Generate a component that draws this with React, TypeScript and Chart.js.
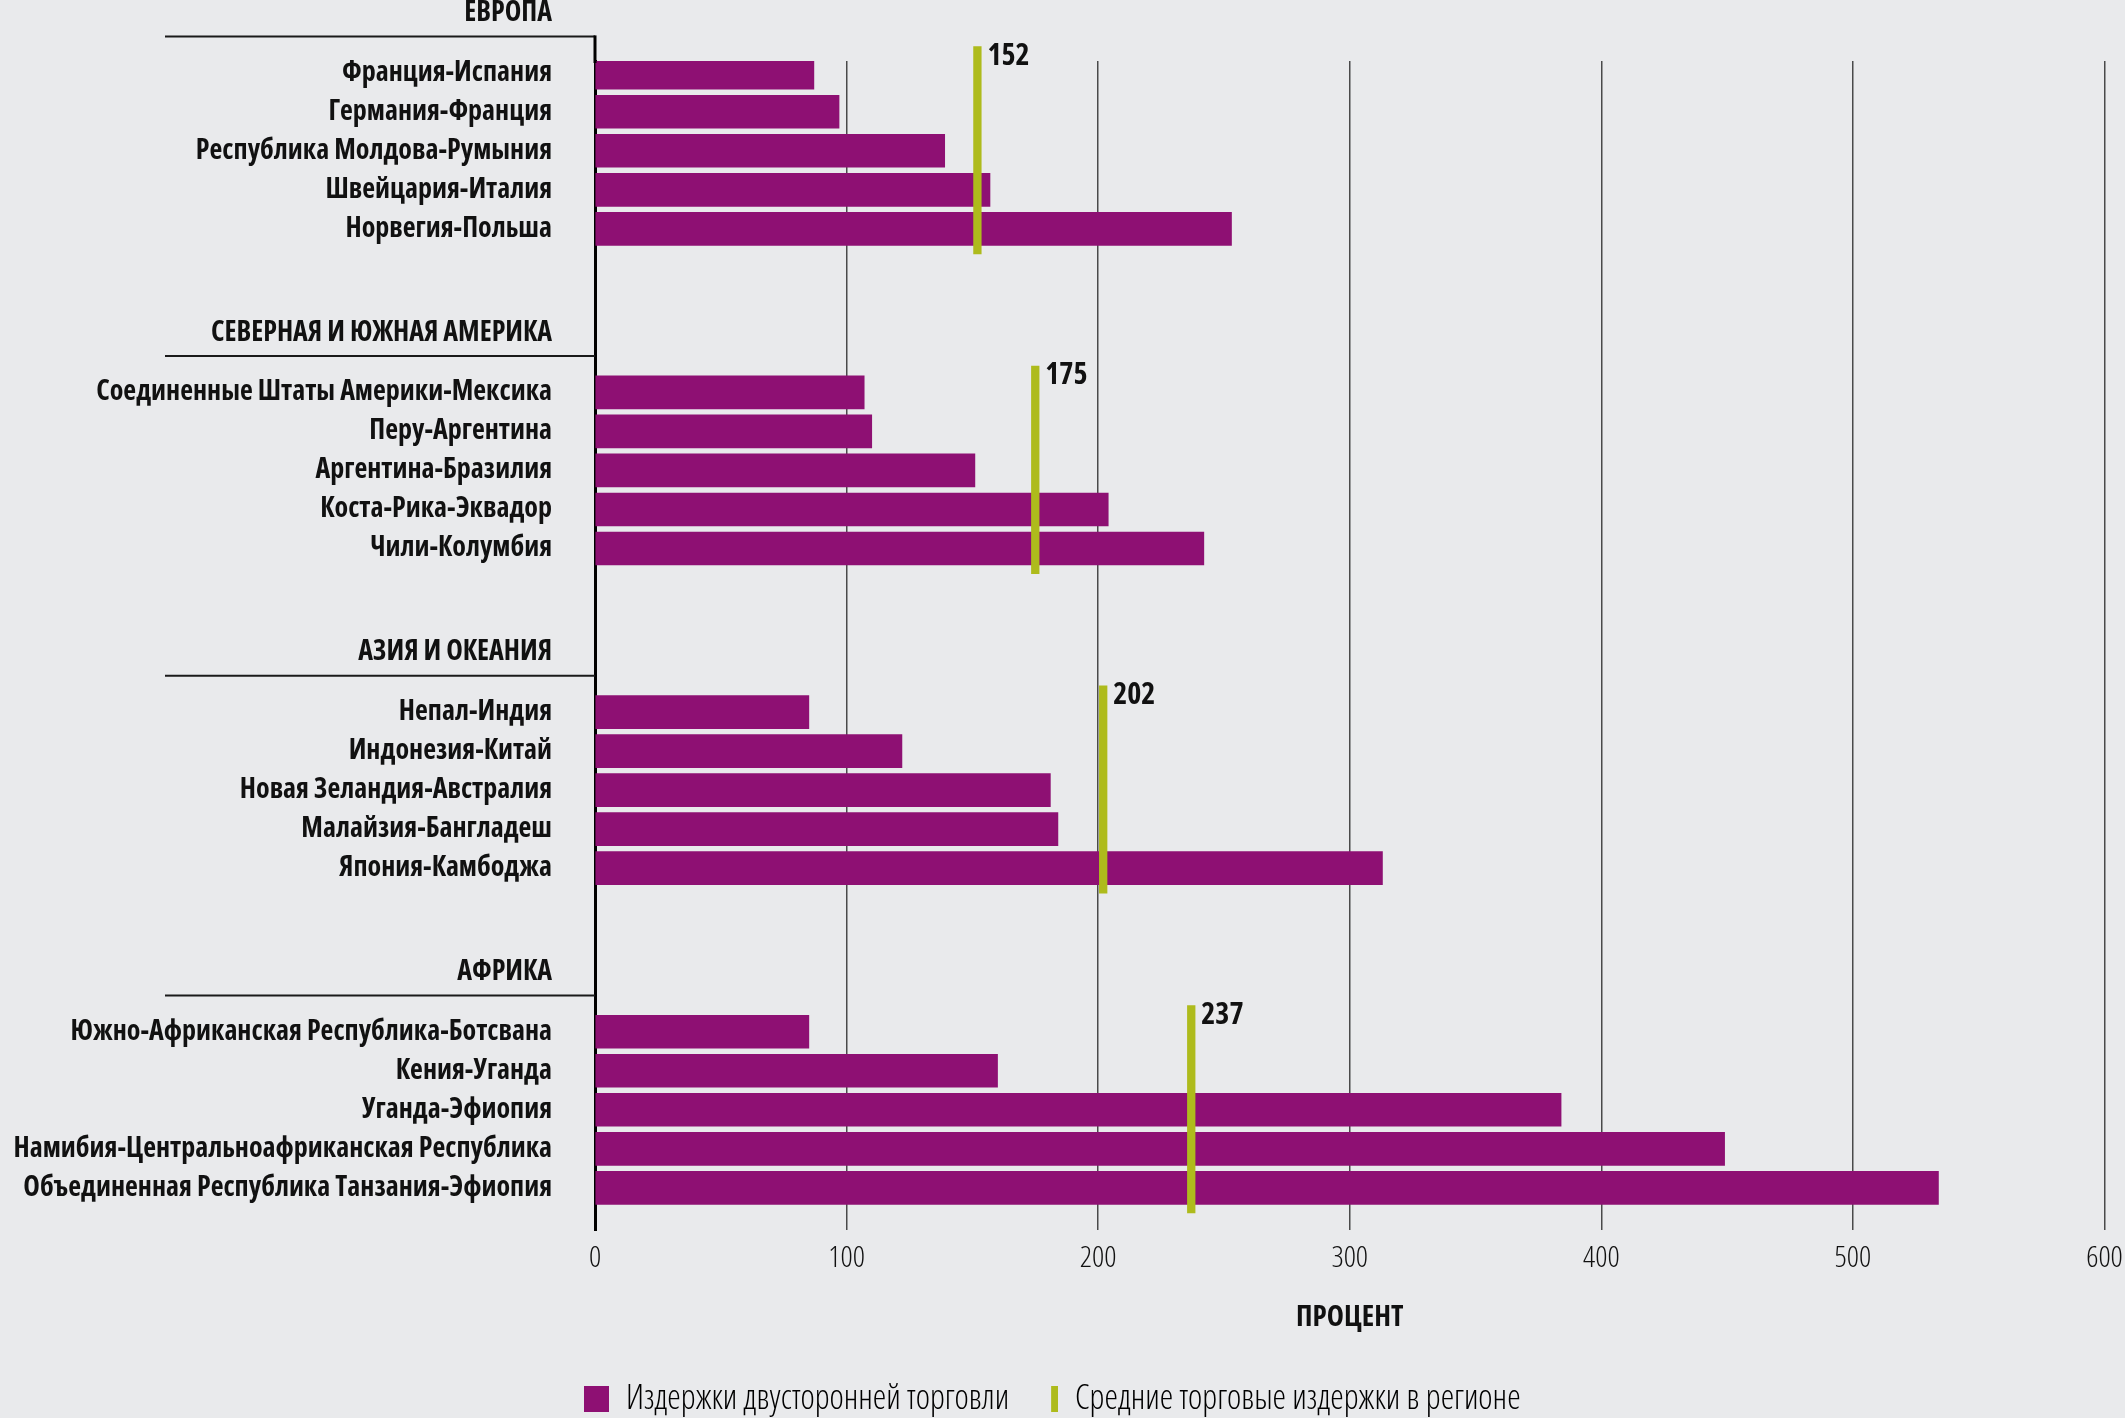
import React, { useEffect, useRef } from "react";
import { Chart, registerables } from "chart.js";

Chart.register(...registerables);

const W = 2125;
const H = 1418;
const BG = "#e9eaec";
const PURPLE = "#8e1073";
const GREEN = "#aebb1c";
const INK = "#111111";
const FAMILY = "'Open Sans', 'DejaVu Sans Condensed', sans-serif";
const BOLD = "condensed bold";
const LIGHT = "condensed 300";
const GROUP_STEP = 8.19;

const regionNames = ["ЕВРОПА", "СЕВЕРНАЯ И ЮЖНАЯ АМЕРИКА", "АЗИЯ И ОКЕАНИЯ", "АФРИКА"];

const europeLabels = ["Франция-Испания", "Германия-Франция", "Республика Молдова-Румыния", "Швейцария-Италия", "Норвегия-Польша"];
const europeValues = [87, 97, 139, 157, 253];

const americasLabels = ["Соединенные Штаты Америки-Мексика", "Перу-Аргентина", "Аргентина-Бразилия", "Коста-Рика-Эквадор", "Чили-Колумбия"];
const americasValues = [107, 110, 151, 204, 242];

const asiaLabels = ["Непал-Индия", "Индонезия-Китай", "Новая Зеландия-Австралия", "Малайзия-Бангладеш", "Япония-Камбоджа"];
const asiaValues = [85, 122, 181, 184, 313];

const africaLabels = ["Южно-Африканская Республика-Ботсвана", "Кения-Уганда", "Уганда-Эфиопия", "Намибия-Центральноафриканская Республика", "Объединенная Республика Танзания-Эфиопия"];
const africaValues = [85, 160, 384, 449, 534];

const regionAverages = [152, 175, 202, 237];

const xTickValues = [0, 100, 200, 300, 400, 500, 600];
const axisTitle = "ПРОЦЕНТ";
const legendLabels = ["Издержки двусторонней торговли", "Средние торговые издержки в регионе"];

const regionLabelLists = [europeLabels, americasLabels, asiaLabels, africaLabels];
const regionValueLists = [europeValues, americasValues, asiaValues, africaValues];

export default function App() {
  const ref = useRef<HTMLCanvasElement>(null);

  useEffect(() => {
    document.body.style.margin = "0";
    document.body.style.background = BG;
    const canvas = ref.current;
    if (!canvas) return;

    const positions: number[] = [];
    const names: string[] = [];
    const barData: { x: number; y: number }[] = [];
    regionLabelLists.forEach((labels, g) => {
      labels.forEach((name, i) => {
        const y = g * GROUP_STEP + i;
        positions.push(y);
        names.push(name);
        barData.push({ x: regionValueLists[g][i], y });
      });
    });
    const avgData: { x: number; y: number }[] = [];
    regionAverages.forEach((avg, g) => {
      const s = g * GROUP_STEP;
      avgData.push({ x: avg, y: s - 0.68 }, { x: avg, y: s + 4.65 }, { x: NaN, y: s + 6 });
    });

    const purpleIcon = document.createElement("canvas");
    purpleIcon.width = 25;
    purpleIcon.height = 26;
    const pc = purpleIcon.getContext("2d")!;
    pc.fillStyle = PURPLE;
    pc.fillRect(0, 0, 25, 26);
    const greenIcon = document.createElement("canvas");
    greenIcon.width = 25;
    greenIcon.height = 26;
    const gc = greenIcon.getContext("2d")!;
    gc.fillStyle = GREEN;
    gc.fillRect(18, 0, 7, 26);

    const headerPlugin = {
      id: "regionHeaders",
      afterDraw(chart: any) {
        const { ctx, chartArea, scales } = chart;
        const ys = scales.y;
        const xs = scales.x;
        ctx.save();
        regionNames.forEach((name, g) => {
          const s = g * GROUP_STEP;
          const ty = ys.getPixelForValue(s - 1.53);
          const ly = ys.getPixelForValue(s - 0.93);
          ctx.font = `${BOLD} 28px ${FAMILY}`;
          ctx.fillStyle = INK;
          ctx.textAlign = "right";
          ctx.textBaseline = "middle";
          ctx.fillText(name, chartArea.left - 43, ty);
          ctx.strokeStyle = "#1a1a1a";
          ctx.lineWidth = 2;
          ctx.beginPath();
          ctx.moveTo(chartArea.left - 430, ly);
          ctx.lineTo(chartArea.left, ly);
          ctx.stroke();
          const ax = xs.getPixelForValue(regionAverages[g]);
          const atop = ys.getPixelForValue(s - 0.68);
          ctx.font = `${BOLD} 30px ${FAMILY}`;
          ctx.textAlign = "left";
          ctx.fillText(String(regionAverages[g]), ax + 10, atop + 10);
        });
        ctx.strokeStyle = "#000";
        ctx.lineWidth = 3;
        ctx.beginPath();
        ctx.moveTo(chartArea.left, ys.getPixelForValue(-0.93) - 1);
        ctx.lineTo(chartArea.left, chartArea.top + 2);
        ctx.stroke();
        ctx.restore();
      },
    };

    const chart = new Chart(canvas, {
      type: "bar",
      data: {
        datasets: [
          {
            type: "line",
            label: legendLabels[1],
            data: avgData,
            borderColor: GREEN,
            backgroundColor: GREEN,
            borderWidth: 8.3,
            pointRadius: 0,
            spanGaps: false,
            clip: false,
            order: 0,
          } as any,
          {
            type: "bar",
            label: legendLabels[0],
            data: barData,
            backgroundColor: PURPLE,
            borderWidth: 0,
            barThickness: 33,
            order: 1,
          } as any,
        ],
      },
      options: {
        indexAxis: "y",
        animation: false,
        responsive: false,
        events: [],
        layout: { padding: { top: 61, left: 0, right: 20.5, bottom: -8 } },
        scales: {
          y: {
            type: "linear",
            reverse: true,
            offset: false,
            min: -0.3,
            max: 29.65,
            afterBuildTicks: (s: any) => {
              s.ticks = positions.map((v) => ({ value: v }));
            },
            afterFit: (s: any) => {
              s.width = 595;
              s.paddingTop = 0;
              s.paddingBottom = 0;
            },
            ticks: {
              autoSkip: false,
              padding: 43,
              color: INK,
              font: { family: FAMILY, weight: BOLD, size: 28 },
              callback: (_v: any, i: number) => names[i] ?? "",
            },
            grid: { display: false, drawTicks: false, offset: false },
            border: { display: true, color: "#000", width: 3 },
          },
          x: {
            type: "linear",
            position: "bottom",
            min: 0,
            max: 600,
            afterBuildTicks: (s: any) => {
              s.ticks = xTickValues.map((v) => ({ value: v }));
            },
            afterFit: (s: any) => {
              s.height = 128;
              s.paddingLeft = 0;
              s.paddingRight = 0;
            },
            ticks: {
              padding: 10,
              color: INK,
              font: { family: FAMILY, weight: LIGHT, size: 30 },
            },
            grid: {
              color: (c: any) => (c.tick && c.tick.value === 0 ? "rgba(0,0,0,0)" : "#4a4a4a"),
              lineWidth: 1.5,
              drawTicks: false,
            },
            border: { display: false },
            title: {
              display: true,
              text: axisTitle,
              color: INK,
              font: { family: FAMILY, weight: BOLD, size: 29 },
              padding: { top: 0, bottom: 23 },
            },
          },
        },
        plugins: {
          tooltip: { enabled: false },
          legend: {
            position: "bottom",
            labels: {
              usePointStyle: true,
              boxWidth: 25,
              boxHeight: 26,
              padding: 24,
              color: INK,
              font: { family: FAMILY, weight: LIGHT, size: 34 },
              generateLabels: () => [
                { text: legendLabels[0], pointStyle: purpleIcon, fillStyle: PURPLE, strokeStyle: PURPLE, lineWidth: 0, hidden: false, datasetIndex: 1 },
                { text: legendLabels[1], pointStyle: greenIcon, fillStyle: GREEN, strokeStyle: GREEN, lineWidth: 0, hidden: false, datasetIndex: 0 },
              ],
            },
          },
        },
      } as any,
      plugins: [headerPlugin],
    });

    return () => chart.destroy();
  }, []);

  return (
    <div style={{ position: "relative", width: W, height: H }}>
      <canvas ref={ref} width={W} height={H} style={{ display: "block", width: W, height: H }} />
    </div>
  );
}
